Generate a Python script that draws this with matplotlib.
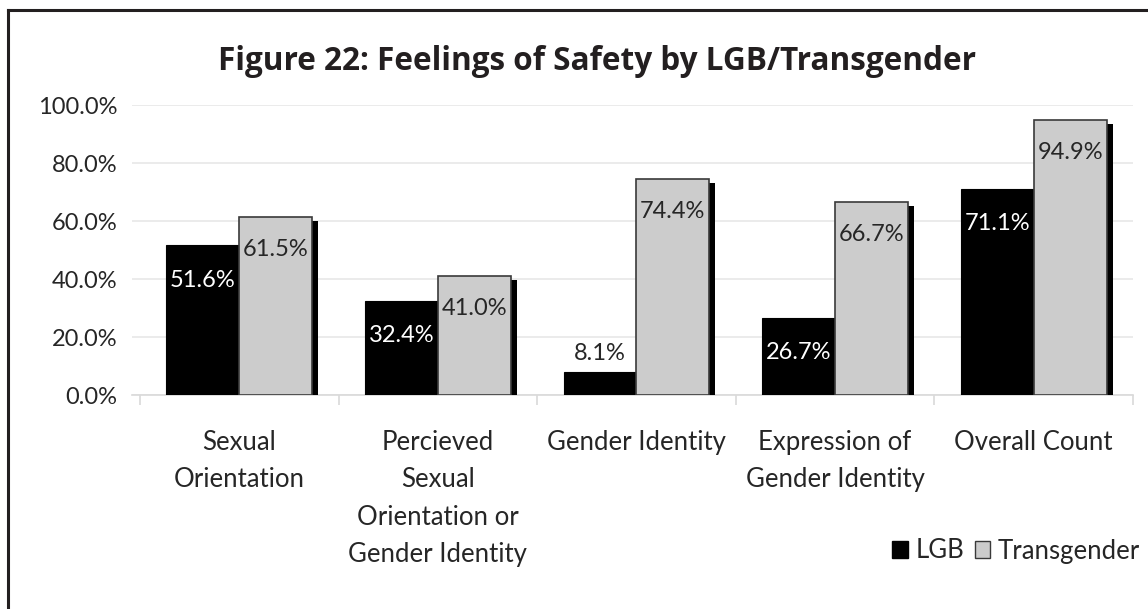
import matplotlib
matplotlib.use("Agg")
import matplotlib.pyplot as plt
import matplotlib.patheffects as pe
from matplotlib.lines import Line2D
from matplotlib.patches import Patch
import numpy as np

categories = ["Sexual\nOrientation",
              "Percieved\nSexual\nOrientation or\nGender Identity",
              "Gender Identity",
              "Expression of\nGender Identity",
              "Overall Count"]
lgb = [0.516, 0.324, 0.081, 0.267, 0.711]
transgender = [0.615, 0.410, 0.744, 0.667, 0.949]
yticks = [0.0, 0.2, 0.4, 0.6, 0.8, 1.0]
title = "Figure 22: Feelings of Safety by LGB/Transgender"

W, H = 1148, 609
fig = plt.figure(figsize=(W / 100, H / 100), dpi=100)
ax = fig.add_axes([132 / W, 1 - 395 / H, (1133 - 132) / W, (395 - 105) / H])

font = "Lato"
txt = "#262626"
fs_tick = 17
fs_cat = 18.5

x = np.arange(len(categories))
w = 0.367
shadow = [pe.SimplePatchShadow(offset=(4.3, -2.9), shadow_rgbFace="black", alpha=1.0), pe.Normal()]

b1 = ax.bar(x - w / 2, lgb, w, color="black", edgecolor="black", linewidth=0.8, zorder=3)
b2 = ax.bar(x + w / 2, transgender, w, color="#cccccc", edgecolor="#3a3a3a", linewidth=1.2, zorder=3)
for b in list(b2):
    b.set_path_effects(shadow)

for rect, v in zip(b1, lgb):
    cx = rect.get_x() + rect.get_width() / 2
    if v < 0.15:
        ax.annotate(f"{v*100:.1f}%", (cx, v), xytext=(0, 13), textcoords="offset points",
                    ha="center", va="center", fontsize=fs_tick, family=font, color=txt, zorder=5)
    else:
        ax.annotate(f"{v*100:.1f}%", (cx, v), xytext=(0, -25), textcoords="offset points",
                    ha="center", va="center", fontsize=fs_tick, family=font, color="white", zorder=5)
for rect, v in zip(b2, transgender):
    cx = rect.get_x() + rect.get_width() / 2
    ax.annotate(f"{v*100:.1f}%", (cx, v), xytext=(0, -23.5), textcoords="offset points",
                ha="center", va="center", fontsize=fs_tick, family=font, color=txt, zorder=5)

ax.set_xlim(-0.54, 4.5)
ax.set_ylim(0, 1.0)
ax.set_yticks(yticks)
ax.set_yticklabels([f"{t*100:.1f}%" for t in yticks], fontsize=fs_tick, family=font, color=txt)
ax.tick_params(axis="y", length=0, pad=10.5)
ax.yaxis.grid(True, color="#e8e8e8", linewidth=1.2, zorder=0)
ax.set_axisbelow(True)

ax.set_xticks(x)
ax.set_xticklabels(categories, fontsize=fs_cat, family=font, color=txt, linespacing=1.62)
ax.tick_params(axis="x", which="major", length=0, pad=25)
ax.set_xticks(np.arange(len(categories) + 1) - 0.5, minor=True)
ax.tick_params(axis="x", which="minor", length=7, color="#d9d9d9", width=1.2)

for s in ["top", "right", "left"]:
    ax.spines[s].set_visible(False)
ax.spines["bottom"].set_color("#d9d9d9")
ax.spines["bottom"].set_linewidth(1.2)

fig.text(0.5 * (218 + 975) / W, 1 - 61 / H, title, ha="center", va="center",
         fontsize=22.7, fontweight="bold", family="Open Sans", color="#231f20")

handles = [Patch(facecolor="black", edgecolor="black"),
           Patch(facecolor="#cccccc", edgecolor="#3a3a3a")]
fig.legend(handles, ["LGB", "Transgender"], loc="center right",
           bbox_to_anchor=(1140 / W, 1 - 551 / H), ncol=2, frameon=False, borderaxespad=0,
           borderpad=0, prop={"family": font, "size": fs_cat}, handlelength=0.6, handleheight=0.6,
           handletextpad=0.3, columnspacing=0.4, labelcolor=txt)

fig.add_artist(Line2D([8 / W, 8 / W], [0, 1 - 10 / H], color="#231f20", linewidth=2.2))
fig.add_artist(Line2D([8 / W, 1], [1 - 10 / H, 1 - 10 / H], color="#231f20", linewidth=2.2))

fig.savefig("out.png", dpi=100)
